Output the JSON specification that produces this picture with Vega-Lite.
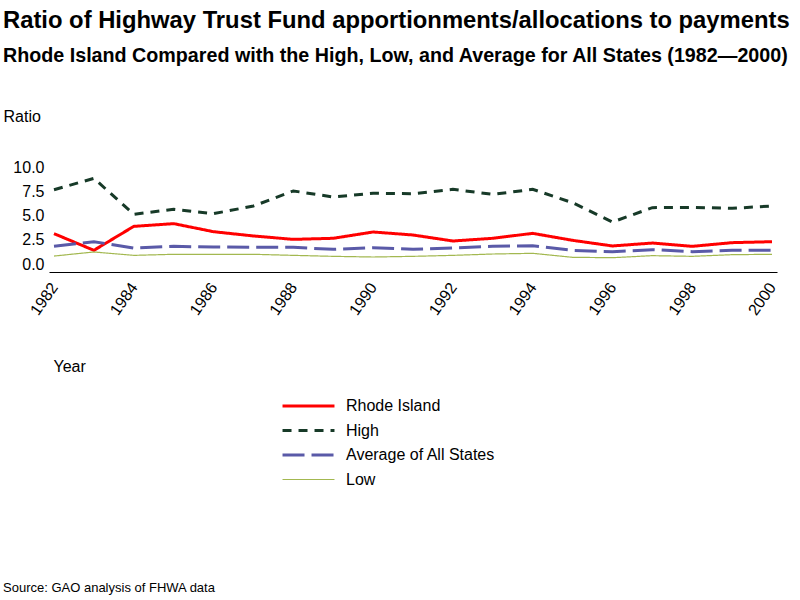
{
  "$schema": "https://vega.github.io/schema/vega-lite/v6.json",
  "padding": {"left": 3, "top": 8, "right": 0, "bottom": 0},
  "background": "white",
  "config": {
    "font": "Liberation Sans",
    "view": {"stroke": null},
    "title": {"color": "black", "font": "Liberation Sans"},
    "legend": {
      "title": null,
      "orient": "none",
      "legendX": 232,
      "legendY": 229,
      "symbolType": "stroke",
      "symbolSize": 2700,
      "clipHeight": 20,
      "labelFontSize": 16,
      "labelColor": "black",
      "labelOffset": 10,
      "rowPadding": 4.5
    }
  },
  "title": {
    "text": "Source: GAO analysis of FHWA data",
    "orient": "bottom",
    "anchor": "start",
    "fontSize": 13,
    "fontWeight": "normal",
    "offset": 92
  },
  "vconcat": [
    {
      "title": {
        "text": "Ratio of Highway Trust Fund apportionments/allocations to payments",
        "subtitle": "Rhode Island Compared with the High, Low, and Average for All States (1982\u20142000)",
        "anchor": "start",
        "frame": "bounds",
        "fontSize": 23.8,
        "fontWeight": "bold",
        "subtitleFontSize": 19.7,
        "subtitleFontWeight": "bold",
        "subtitleColor": "black",
        "subtitlePadding": 14,
        "offset": 42
      },
      "width": 728,
      "height": 97,
      "data": {
        "values": [
          {"year": 1982, "series": "Rhode Island", "value": 3.13},
          {"year": 1983, "series": "Rhode Island", "value": 1.41},
          {"year": 1984, "series": "Rhode Island", "value": 3.88},
          {"year": 1985, "series": "Rhode Island", "value": 4.16},
          {"year": 1986, "series": "Rhode Island", "value": 3.33},
          {"year": 1987, "series": "Rhode Island", "value": 2.89},
          {"year": 1988, "series": "Rhode Island", "value": 2.54},
          {"year": 1989, "series": "Rhode Island", "value": 2.65},
          {"year": 1990, "series": "Rhode Island", "value": 3.3},
          {"year": 1991, "series": "Rhode Island", "value": 2.99},
          {"year": 1992, "series": "Rhode Island", "value": 2.37},
          {"year": 1993, "series": "Rhode Island", "value": 2.65},
          {"year": 1994, "series": "Rhode Island", "value": 3.16},
          {"year": 1995, "series": "Rhode Island", "value": 2.44},
          {"year": 1996, "series": "Rhode Island", "value": 1.86},
          {"year": 1997, "series": "Rhode Island", "value": 2.16},
          {"year": 1998, "series": "Rhode Island", "value": 1.82},
          {"year": 1999, "series": "Rhode Island", "value": 2.2},
          {"year": 2000, "series": "Rhode Island", "value": 2.3},
          {"year": 1982, "series": "High", "value": 7.66},
          {"year": 1983, "series": "High", "value": 8.83},
          {"year": 1984, "series": "High", "value": 5.12},
          {"year": 1985, "series": "High", "value": 5.64},
          {"year": 1986, "series": "High", "value": 5.19},
          {"year": 1987, "series": "High", "value": 5.98},
          {"year": 1988, "series": "High", "value": 7.53},
          {"year": 1989, "series": "High", "value": 6.91},
          {"year": 1990, "series": "High", "value": 7.29},
          {"year": 1991, "series": "High", "value": 7.25},
          {"year": 1992, "series": "High", "value": 7.7},
          {"year": 1993, "series": "High", "value": 7.18},
          {"year": 1994, "series": "High", "value": 7.7},
          {"year": 1995, "series": "High", "value": 6.32},
          {"year": 1996, "series": "High", "value": 4.33},
          {"year": 1997, "series": "High", "value": 5.81},
          {"year": 1998, "series": "High", "value": 5.84},
          {"year": 1999, "series": "High", "value": 5.74},
          {"year": 2000, "series": "High", "value": 5.98},
          {"year": 1982, "series": "Average of All States", "value": 1.82},
          {"year": 1983, "series": "Average of All States", "value": 2.3},
          {"year": 1984, "series": "Average of All States", "value": 1.65},
          {"year": 1985, "series": "Average of All States", "value": 1.82},
          {"year": 1986, "series": "Average of All States", "value": 1.75},
          {"year": 1987, "series": "Average of All States", "value": 1.72},
          {"year": 1988, "series": "Average of All States", "value": 1.72},
          {"year": 1989, "series": "Average of All States", "value": 1.51},
          {"year": 1990, "series": "Average of All States", "value": 1.68},
          {"year": 1991, "series": "Average of All States", "value": 1.51},
          {"year": 1992, "series": "Average of All States", "value": 1.65},
          {"year": 1993, "series": "Average of All States", "value": 1.82},
          {"year": 1994, "series": "Average of All States", "value": 1.89},
          {"year": 1995, "series": "Average of All States", "value": 1.41},
          {"year": 1996, "series": "Average of All States", "value": 1.27},
          {"year": 1997, "series": "Average of All States", "value": 1.48},
          {"year": 1998, "series": "Average of All States", "value": 1.27},
          {"year": 1999, "series": "Average of All States", "value": 1.41},
          {"year": 2000, "series": "Average of All States", "value": 1.41},
          {"year": 1982, "series": "Low", "value": 0.82},
          {"year": 1983, "series": "Low", "value": 1.24},
          {"year": 1984, "series": "Low", "value": 0.89},
          {"year": 1985, "series": "Low", "value": 1.0},
          {"year": 1986, "series": "Low", "value": 1.0},
          {"year": 1987, "series": "Low", "value": 1.0},
          {"year": 1988, "series": "Low", "value": 0.89},
          {"year": 1989, "series": "Low", "value": 0.79},
          {"year": 1990, "series": "Low", "value": 0.72},
          {"year": 1991, "series": "Low", "value": 0.79},
          {"year": 1992, "series": "Low", "value": 0.89},
          {"year": 1993, "series": "Low", "value": 1.03},
          {"year": 1994, "series": "Low", "value": 1.1},
          {"year": 1995, "series": "Low", "value": 0.69},
          {"year": 1996, "series": "Low", "value": 0.65},
          {"year": 1997, "series": "Low", "value": 0.86},
          {"year": 1998, "series": "Low", "value": 0.79},
          {"year": 1999, "series": "Low", "value": 0.96},
          {"year": 2000, "series": "Low", "value": 1.0}
        ]
      },
      "mark": {"type": "line", "strokeCap": "butt"},
      "encoding": {
        "x": {
          "field": "year",
          "type": "quantitative",
          "scale": {"domain": [1982, 2000], "padding": 5, "nice": false, "zero": false},
          "axis": {
            "values": [1982, 1984, 1986, 1988, 1990, 1992, 1994, 1996, 1998, 2000],
            "format": "d",
            "offset": 8,
            "grid": false,
            "ticks": false,
            "domainColor": "black",
            "domainWidth": 1,
            "labelAngle": -55,
            "labelAlign": "right",
            "labelBaseline": "middle",
            "labelPadding": 12,
            "labelDx": 6,
            "labelFontSize": 16,
            "labelColor": "black",
            "labelFlush": false,
            "labelOverlap": false,
            "title": "Year",
            "titleFontSize": 16,
            "titleFontWeight": "normal",
            "titleColor": "black",
            "titleAngle": 0,
            "titleAlign": "left",
            "titleBaseline": "middle",
            "titleX": 4,
            "titleY": 94
          }
        },
        "y": {
          "field": "value",
          "type": "quantitative",
          "scale": {"domain": [0, 10], "nice": false},
          "axis": {
            "values": [0, 2.5, 5, 7.5, 10],
            "format": ".1f",
            "grid": false,
            "ticks": false,
            "domain": false,
            "labelFontSize": 16,
            "labelColor": "black",
            "labelPadding": 5,
            "labelFlush": false,
            "labelOverlap": false,
            "title": "Ratio",
            "titleFontSize": 16,
            "titleFontWeight": "normal",
            "titleColor": "black",
            "titleAngle": 0,
            "titleAlign": "left",
            "titleBaseline": "middle",
            "titleX": -46,
            "titleY": -51
          }
        },
        "color": {
          "field": "series",
          "type": "nominal",
          "sort": ["Rhode Island", "High", "Average of All States", "Low"],
          "scale": {
            "domain": ["Rhode Island", "High", "Average of All States", "Low"],
            "range": ["#ff0000", "#173a28", "#5a5aa8", "#a3b850"]
          }
        },
        "strokeDash": {
          "field": "series",
          "type": "nominal",
          "sort": ["Rhode Island", "High", "Average of All States", "Low"],
          "scale": {
            "domain": ["Rhode Island", "High", "Average of All States", "Low"],
            "range": [[1, 0], [9, 7], [22, 7], [1, 0]]
          }
        },
        "strokeWidth": {
          "field": "series",
          "type": "nominal",
          "sort": ["Rhode Island", "High", "Average of All States", "Low"],
          "scale": {
            "type": "ordinal",
            "domain": ["Rhode Island", "High", "Average of All States", "Low"],
            "range": [3, 3, 3, 1.2]
          }
        }
      }
    }
  ]
}
